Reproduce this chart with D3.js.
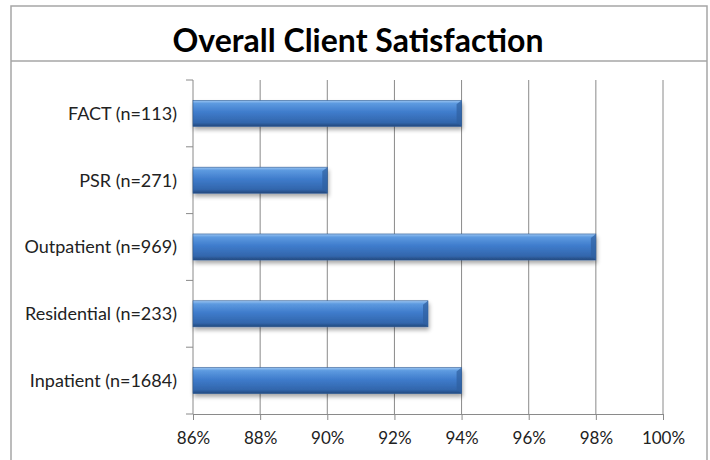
<!DOCTYPE html>
<html>
<head>
<meta charset="utf-8">
<script src="https://cdn.jsdelivr.net/npm/d3@7"></script>
<style>
  body { margin: 0; background: #fff; }
  text { font-family: Lato, "Open Sans", sans-serif; }
</style>
</head>
<body>
<svg id="chart"></svg>
<script>
const categories = ["FACT (n=113)", "PSR (n=271)", "Outpatient (n=969)", "Residential (n=233)", "Inpatient (n=1684)"];
const satisfaction = [94, 90, 98, 93, 94];
const xTicks = [86, 88, 90, 92, 94, 96, 98, 100];
const title = "Overall Client Satisfaction";

const width = 710, height = 460;
const margin = { top: 80, left: 193, right: 47, bottom: 46 };

const svg = d3.select("#chart")
    .attr("width", width)
    .attr("height", height);

const defs = svg.append("defs");
const grad = defs.append("linearGradient")
    .attr("id", "barGrad")
    .attr("x1", 0).attr("y1", 0).attr("x2", 0).attr("y2", 1);
grad.append("stop").attr("offset", "0%").attr("stop-color", "#9cc6f2");
grad.append("stop").attr("offset", "12%").attr("stop-color", "#5d9ae0");
grad.append("stop").attr("offset", "45%").attr("stop-color", "#3f7ccc");
grad.append("stop").attr("offset", "85%").attr("stop-color", "#3266ac");
grad.append("stop").attr("offset", "100%").attr("stop-color", "#23487c");

const shadow = defs.append("filter").attr("id", "shadow")
    .attr("x", "-5%").attr("y", "-30%").attr("width", "115%").attr("height", "180%");
shadow.append("feGaussianBlur").attr("in", "SourceAlpha").attr("stdDeviation", 2);
shadow.append("feOffset").attr("dx", 1).attr("dy", 3).attr("result", "off");
shadow.append("feComponentTransfer").append("feFuncA").attr("type", "linear").attr("slope", 0.35);
const merge = shadow.append("feMerge");
merge.append("feMergeNode");
merge.append("feMergeNode").attr("in", "SourceGraphic");

// frame and title box
svg.append("rect")
    .attr("x", 11).attr("y", 6)
    .attr("width", 696).attr("height", 470)
    .attr("fill", "none")
    .attr("stroke", "#a6a6a6")
    .attr("stroke-width", 1.5);
svg.append("line")
    .attr("x1", 11).attr("x2", 707)
    .attr("y1", 61).attr("y2", 61)
    .attr("stroke", "#a6a6a6")
    .attr("stroke-width", 1.5);

svg.append("text")
    .attr("x", 358).attr("y", 52)
    .attr("text-anchor", "middle")
    .style("font-weight", "bold")
    .style("font-size", "32px")
    .attr("fill", "#000")
    .text(title);

const x = d3.scaleLinear()
    .domain([86, 100])
    .range([margin.left, width - margin.right]);

const y = d3.scaleBand()
    .domain(categories)
    .range([margin.top, height - margin.bottom])
    .paddingInner(0.61)
    .paddingOuter(0.305);

const yBoundary = d3.scaleLinear()
    .domain([0, categories.length])
    .range([margin.top, height - margin.bottom]);

// gridlines
svg.append("g")
    .selectAll("line")
    .data(xTicks.slice(1))
    .join("line")
    .attr("x1", d => x(d)).attr("x2", d => x(d))
    .attr("y1", margin.top).attr("y2", height - margin.bottom)
    .attr("stroke", "#8a8a8a")
    .attr("stroke-width", 1);

// x axis
const xAxis = svg.append("g")
    .attr("transform", `translate(0,${height - margin.bottom})`)
    .call(d3.axisBottom(x).tickValues(xTicks).tickFormat(d => d + "%").tickSize(6).tickPadding(12));
xAxis.select(".domain").attr("stroke", "#8a8a8a");
xAxis.selectAll(".tick line").attr("stroke", "#8a8a8a");
xAxis.selectAll("text")
    .style("font-family", "Lato, sans-serif")
    .style("font-size", "17px")
    .attr("fill", "#222");

// y axis line with ticks at category boundaries
svg.append("line")
    .attr("x1", margin.left).attr("x2", margin.left)
    .attr("y1", margin.top).attr("y2", height - margin.bottom)
    .attr("stroke", "#8a8a8a");
svg.append("g")
    .selectAll("line")
    .data(d3.range(categories.length + 1))
    .join("line")
    .attr("x1", margin.left - 7).attr("x2", margin.left)
    .attr("y1", d => yBoundary(d)).attr("y2", d => yBoundary(d))
    .attr("stroke", "#8a8a8a");

svg.append("g")
    .selectAll("text")
    .data(categories)
    .join("text")
    .attr("x", margin.left - 16)
    .attr("y", d => y(d) + y.bandwidth() / 2)
    .attr("dy", "0.35em")
    .attr("text-anchor", "end")
    .style("font-size", "18px")
    .attr("fill", "#222")
    .text(d => d);

// bars
const bars = svg.append("g")
    .selectAll("g")
    .data(categories.map((c, i) => ({ c, v: satisfaction[i] })))
    .join("g");

bars.append("rect")
    .attr("x", x(86))
    .attr("y", d => y(d.c))
    .attr("width", d => x(d.v) - x(86))
    .attr("height", y.bandwidth())
    .attr("fill", "url(#barGrad)")
    .attr("stroke", "#2d5a94")
    .attr("stroke-width", 0.6)
    .attr("filter", "url(#shadow)");

// bevel on bar end
bars.append("path")
    .attr("d", d => {
        const x1 = x(d.v), y0 = y(d.c), h = y.bandwidth();
        return `M${x1 - 5},${y0 + 4} L${x1},${y0} L${x1},${y0 + h} L${x1 - 5},${y0 + h - 4} Z`;
    })
    .attr("fill", "#2f5f9f")
    .attr("opacity", 0.7);
</script>
</body>
</html>
